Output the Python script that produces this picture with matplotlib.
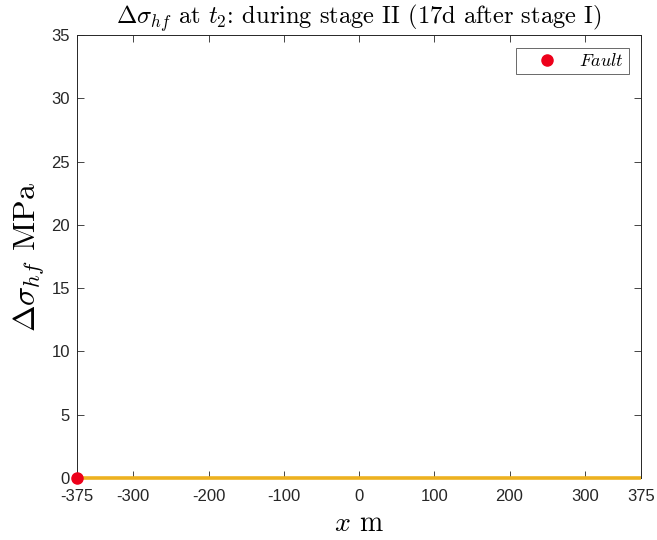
import matplotlib
matplotlib.use("Agg")
import matplotlib.pyplot as plt
import numpy as np

plt.rcParams["mathtext.fontset"] = "cm"
plt.rcParams["font.family"] = ["Liberation Sans", "DejaVu Sans"]

# Stress change along the profile at t2
x_pos = np.array([-375, -300, -200, -100, 0, 100, 200, 300, 375])
dsigma = np.array([0, 0, 0, 0, 0, 0, 0, 0, 0])
fault_x = [-375]
fault_y = [0]

xticks = [-375, -300, -200, -100, 0, 100, 200, 300, 375]
yticks = [0, 5, 10, 15, 20, 25, 30, 35]

fig = plt.figure(figsize=(6.57, 5.40), dpi=100)
ax = fig.add_axes([0.117, 0.115, 0.859, 0.820])

ax.plot(x_pos, dsigma, color=(0.929, 0.694, 0.125), lw=2.6, zorder=3,
        clip_on=False, solid_capstyle="butt")
ax.plot(fault_x, fault_y, "o", color=(0.93, 0.0, 0.1), ms=8,
        clip_on=False, zorder=5, label=r"$Fault$")

ax.set_xlim(-375, 375)
ax.set_ylim(0, 35)
ax.set_xticks(xticks)
ax.set_xticklabels([str(t) for t in xticks])
ax.set_yticks(yticks)
ax.tick_params(direction="in", top=True, right=True, length=5,
               width=0.6, labelsize=12, colors="#262626")
ax.tick_params(axis="x", pad=8)
ax.tick_params(axis="y", pad=5)
for s in ax.spines.values():
    s.set_linewidth(0.7)
    s.set_color("#262626")

ax.set_xlabel(r"$x$ m", family="cmr10", fontsize=20, labelpad=5)
ax.set_ylabel(r"$\Delta\sigma_{hf}$ MPa", family="cmr10", fontsize=23, labelpad=3)
ax.set_title(r"$\Delta\sigma_{hf}$ at $t_2$: during stage II (17d after stage I)",
             family="cmr10", fontsize=17.6, pad=8)

leg = ax.legend(loc="upper right", fontsize=13, frameon=True, fancybox=False,
                bbox_to_anchor=(0.978, 0.97), borderaxespad=0,
                handletextpad=0.35, handlelength=2.9, borderpad=0.25)
leg.get_frame().set_edgecolor("#262626")
leg.get_frame().set_linewidth(0.6)

fig.savefig("out.png", dpi=100)
